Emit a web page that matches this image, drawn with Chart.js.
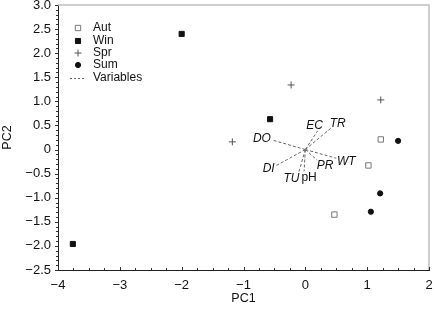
<!DOCTYPE html>
<html>
<head>
<meta charset="utf-8">
<script src="https://cdn.jsdelivr.net/npm/chart.js@4.4.1/dist/chart.umd.min.js"></script>
<style>
  html, body { margin: 0; padding: 0; background: #fff; }
  #wrap { width: 434px; height: 313px; }
</style>
</head>
<body>
<div id="wrap"><canvas id="pca"></canvas></div>
<script>
// PCA scores per season
const autPoints = [[1.22, 0.21], [1.02, -0.33], [0.47, -1.35]];
const winPoints = [[-2.00, 2.40], [-3.76, -1.96], [-0.57, 0.63]];
const sprPoints = [[-0.23, 1.34], [1.22, 1.03], [-1.18, 0.16]];
const sumPoints = [[1.50, 0.18], [1.21, -0.91], [1.06, -1.29]];

// loadings (vector end points, drawn from origin)
const varNames = ['DO', 'EC', 'TR', 'WT', 'PR', 'pH', 'TU', 'DI'];
const varX = [-0.54, 0.20, 0.41, 0.50, 0.19, -0.02, -0.11, -0.48];
const varY = [0.20, 0.39, 0.44, -0.18, -0.22, -0.45, -0.49, -0.34];

const xTicks = [-4, -3, -2, -1, 0, 1, 2];
const yTicks = [-2.5, -2.0, -1.5, -1.0, -0.5, 0, 0.5, 1.0, 1.5, 2.0, 2.5, 3.0];

const legendNames = ['Aut', 'Win', 'Spr', 'Sum', 'Variables'];

// label offsets in pixels from each vector tip
const labelOff = {
  DO: [-10, -1], EC: [-3, -5], TR: [7, -5], WT: [10, 3],
  PR: [8, 6], pH: [5, 6], TU: [-7, 6], DI: [-7, 3]
};

const FONT = '"Liberation Sans", Arial, Helvetica, sans-serif';
const minus = v => String(v).replace('-', '\u2212');

function toXY(arr) {
  return arr.map(p => ({ x: p[0], y: p[1] }));
}

const seasonStyles = {
  Aut: { pointStyle: 'rect', pointRadius: 3.8, backgroundColor: '#fff', borderColor: '#777', borderWidth: 1 },
  Win: { pointStyle: 'rect', pointRadius: 3.6, backgroundColor: '#111', borderColor: '#111', borderWidth: 1 },
  Spr: { pointStyle: 'cross', pointRadius: 3.5, backgroundColor: '#555', borderColor: '#555', borderWidth: 1 },
  Sum: { pointStyle: 'circle', pointRadius: 2.6, backgroundColor: '#111', borderColor: '#111', borderWidth: 1 }
};

const datasets = [];
[['Aut', autPoints], ['Win', winPoints], ['Spr', sprPoints], ['Sum', sumPoints]].forEach(([name, pts]) => {
  const s = seasonStyles[name];
  datasets.push({
    label: name,
    data: toXY(pts),
    showLine: false,
    pointStyle: s.pointStyle,
    pointRadius: s.pointRadius,
    pointBackgroundColor: s.backgroundColor,
    pointBorderColor: s.borderColor,
    pointBorderWidth: s.borderWidth,
    order: 1
  });
});

varNames.forEach((name, i) => {
  datasets.push({
    label: 'var-' + name,
    data: [{ x: 0, y: 0 }, { x: varX[i], y: varY[i] }],
    showLine: true,
    borderColor: '#666',
    borderWidth: 1,
    borderDash: [3, 2],
    pointRadius: 0,
    order: 2
  });
});

// minor ticks, frame, vector labels and legend
const decorPlugin = {
  id: 'decor',
  afterDraw(chart) {
    const { ctx, chartArea: a, scales: { x, y } } = chart;
    ctx.save();

    // light frame on top and right
    ctx.strokeStyle = '#bdbdbd';
    ctx.lineWidth = 1.5;
    ctx.beginPath();
    ctx.moveTo(a.left, a.top);
    ctx.lineTo(a.right, a.top);
    ctx.lineTo(a.right, a.bottom);
    ctx.stroke();

    // tick marks
    ctx.strokeStyle = '#333';
    ctx.lineWidth = 1;
    ctx.beginPath();
    for (let v = -4; v <= 2.001; v += 0.25) {
      const px = Math.round(x.getPixelForValue(v)) + 0.5;
      const major = Math.abs(v - Math.round(v)) < 0.01;
      ctx.moveTo(px, a.bottom);
      ctx.lineTo(px, a.bottom - (major ? 3 : 2));
    }
    for (let k = -25; k <= 30; k++) {
      const v = k / 10;
      const py = Math.round(y.getPixelForValue(v)) + 0.5;
      const major = k % 5 === 0;
      ctx.moveTo(a.left, py);
      ctx.lineTo(a.left - (major ? 3 : 2), py);
    }
    ctx.stroke();

    // vector labels
    ctx.fillStyle = '#111';
    ctx.textAlign = 'center';
    ctx.textBaseline = 'middle';
    varNames.forEach((name, i) => {
      const px = x.getPixelForValue(varX[i]);
      const py = y.getPixelForValue(varY[i]);
      const off = labelOff[name];
      ctx.font = (name === 'pH' ? '' : 'italic ') + '12px ' + FONT;
      ctx.fillText(name, px + off[0], py + off[1]);
    });

    // legend
    const lx = a.left + 20;
    const tx = a.left + 35;
    const rows = [28, 41, 53, 65, 78];
    ctx.font = '12px ' + FONT;
    ctx.textAlign = 'left';
    legendNames.forEach((name, i) => {
      const ly = rows[i];
      ctx.fillStyle = '#111';
      ctx.fillText(name, tx, ly);
      if (name === 'Variables') {
        ctx.save();
        ctx.strokeStyle = '#666';
        ctx.setLineDash([2, 2]);
        ctx.beginPath();
        ctx.moveTo(lx - 8, ly + 0.5);
        ctx.lineTo(lx + 8, ly + 0.5);
        ctx.stroke();
        ctx.restore();
      } else {
        const s = seasonStyles[name];
        ctx.fillStyle = s.backgroundColor;
        ctx.strokeStyle = s.borderColor;
        ctx.lineWidth = s.borderWidth;
        Chart.helpers.drawPoint(ctx, {
          pointStyle: s.pointStyle,
          radius: s.pointRadius,
          borderWidth: s.borderWidth
        }, lx, ly);
      }
    });
    ctx.restore();
  }
};

new Chart(document.getElementById('pca'), {
  type: 'scatter',
  data: { datasets: datasets },
  options: {
    responsive: true,
    maintainAspectRatio: false,
    animation: false,
    layout: { padding: { top: 5, right: 4, left: 0, bottom: 0 } },
    plugins: {
      legend: { display: false },
      tooltip: { enabled: false }
    },
    scales: {
      x: {
        type: 'linear',
        min: -4,
        max: 2,
        afterBuildTicks: axis => { axis.ticks = xTicks.map(v => ({ value: v })); },
        afterFit: axis => {
          axis.height = 43;
          axis.paddingLeft = 0;
          axis.paddingRight = 0;
        },
        grid: { display: false, drawTicks: false },
        border: { display: true, color: '#222', width: 1 },
        ticks: {
          color: '#111',
          padding: 8,
          maxRotation: 0,
          font: { family: FONT, size: 13 },
          callback: v => minus(v)
        },
        title: {
          display: true,
          text: 'PC1',
          color: '#111',
          font: { family: FONT, size: 12.5 },
          padding: { top: 0, bottom: 7 }
        }
      },
      y: {
        type: 'linear',
        min: -2.5,
        max: 3,
        afterBuildTicks: axis => { axis.ticks = yTicks.map(v => ({ value: v })); },
        afterFit: axis => {
          axis.width = 58;
          axis.paddingTop = 0;
          axis.paddingBottom = 0;
        },
        grid: { display: false, drawTicks: false },
        border: { display: true, color: '#222', width: 1 },
        ticks: {
          color: '#111',
          padding: 7,
          font: { family: FONT, size: 13 },
          callback: v => v === 0 ? '0' : minus(v.toFixed(1))
        },
        title: {
          display: true,
          text: 'PC2',
          color: '#111',
          font: { family: FONT, size: 12.5 },
          padding: { top: 0, bottom: 0 }
        }
      }
    }
  },
  plugins: [decorPlugin]
});
</script>
</body>
</html>
